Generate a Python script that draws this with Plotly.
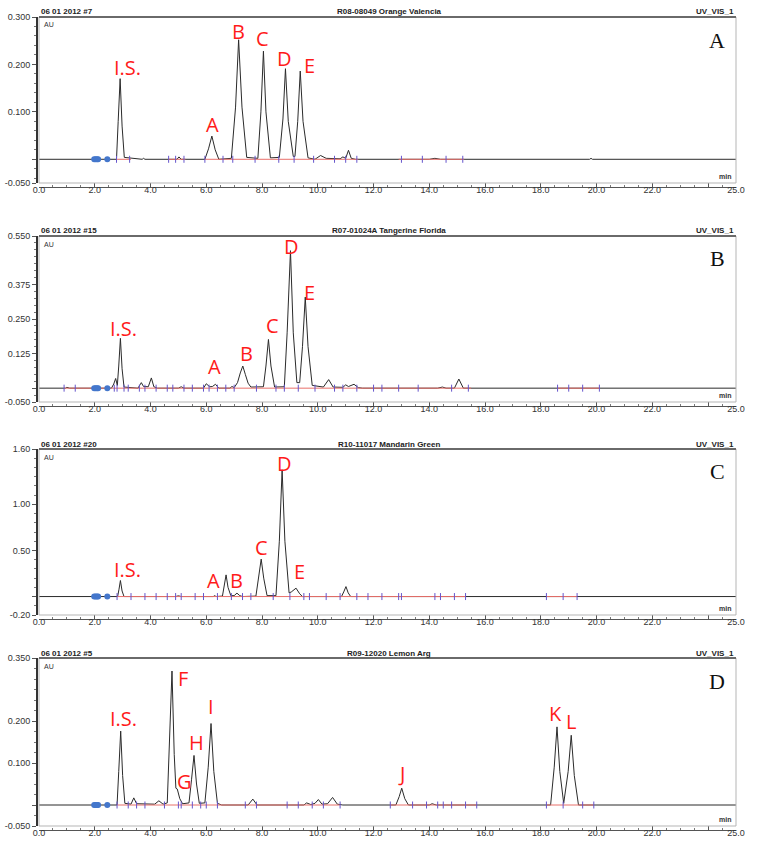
import plotly.graph_objects as go

# ---- chromatogram data (time in min, signal in AU) ----
time_a = [0, 2.78, 2.84, 2.91, 2.98, 3.06, 3.7, 3.75, 3.8, 4.95, 5.02, 5.1, 5.95, 6.08, 6.2, 6.32, 6.45,
          6.9, 7.05, 7.16, 7.28, 7.45, 7.85, 7.96, 8.05, 8.14, 8.3, 8.62, 8.75, 8.84, 8.94, 9.12, 9.18,
          9.28, 9.37, 9.47, 9.65, 9.9, 10.1, 10.3, 10.8, 10.9, 11.0, 11.1, 11.2, 11.35, 14.0, 14.2, 14.4,
          19.75, 19.8, 19.85, 25]
au_a = [0, 0, 0.08, 0.170, 0.07, 0.004, 0, 0.002, 0, 0, 0.005, 0, 0, 0.022, 0.049, 0.02, 0,
        0.002, 0.11, 0.252, 0.11, 0.004, 0.002, 0.1, 0.228, 0.1, 0.003, 0.004, 0.085, 0.191, 0.08, 0.006, 0.006,
        0.08, 0.186, 0.08, 0.003, 0, 0.008, 0.002, 0.001, 0.005, 0.002, 0.019, 0.002, 0, 0, 0.002, 0,
        0, 0.002, 0, 0]

time_b = [0, 0.95, 1.0, 1.1, 2.6, 2.68, 2.75, 2.81, 2.86, 2.92, 2.98, 3.05, 3.55, 3.62, 3.67, 3.75, 3.92,
          4.03, 4.12, 4.25, 5.0, 5.1, 5.2, 5.9, 6.0, 6.12, 6.22, 6.33, 6.45, 6.85, 6.92, 7.0, 7.12, 7.22,
          7.31, 7.4, 7.5, 7.6, 8.05, 8.14, 8.23, 8.32, 8.45, 8.8, 8.9, 9.02, 9.12, 9.25, 9.35, 9.45, 9.55,
          9.65, 9.8, 10.2, 10.39, 10.55, 10.9, 11.0, 11.1, 11.3, 11.45, 11.6, 14.3, 14.47, 14.6, 14.9,
          15.06, 15.22, 18.7, 18.8, 18.9, 25]
au_b = [0, 0, 0.003, 0, 0, 0.015, 0.035, 0.01, 0.08, 0.180, 0.07, 0.004, 0, 0.01, 0.02, 0.006, 0.005,
        0.037, 0.005, 0, 0, 0.005, 0, 0, 0.016, 0.005, 0.006, 0.014, 0, 0, 0.006, 0.002, 0.02, 0.055,
        0.08, 0.05, 0.018, 0.004, 0.005, 0.08, 0.176, 0.08, 0.004, 0.005, 0.2, 0.497, 0.2, 0.02, 0.02, 0.15, 0.329,
        0.15, 0.01, 0.004, 0.031, 0.004, 0.003, 0.012, 0.006, 0.014, 0.002, 0, 0, 0.004, 0, 0,
        0.033, 0, 0, 0.002, 0, 0]

time_c = [0, 2.82, 2.87, 2.92, 2.98, 3.05, 4.9, 5.0, 5.1, 6.25, 6.3, 6.35, 6.58, 6.64, 6.71, 6.78, 6.88,
          7.0, 7.1, 7.2, 7.3, 7.78, 7.88, 7.97, 8.06, 8.18, 8.5, 8.62, 8.72, 8.82, 8.97, 9.05, 9.22, 9.35,
          9.45, 10.85, 10.93, 11.01, 11.09, 11.18, 25]
au_c = [0, 0, 0.08, 0.174, 0.06, 0, 0, 0.008, 0, 0, 0.01, 0, 0.005, 0.12, 0.235, 0.1, 0.01,
        0.01, 0.037, 0.01, 0, 0.005, 0.2, 0.406, 0.2, 0.01, 0.01, 0.6, 1.374, 0.6, 0.04, 0.05, 0.091, 0.03,
        0, 0, 0.05, 0.108, 0.04, 0, 0]

time_d = [0, 2.8, 2.86, 2.93, 3.0, 3.08, 3.3, 3.4, 3.5, 3.6, 4.15, 4.3, 4.45, 4.6, 4.68, 4.77, 4.85,
          4.91, 4.96, 5.05, 5.15, 5.38, 5.47, 5.56, 5.65, 5.75, 5.95, 6.07, 6.17, 6.27, 6.4, 6.55, 7.5,
          7.67, 7.82, 9.5, 9.6, 9.75, 9.9, 10.02, 10.15, 10.35, 10.53, 10.7, 10.9, 12.8, 12.92, 13.01,
          13.12, 13.25, 14.0, 14.1, 14.25, 18.35, 18.48, 18.58, 18.68, 18.82, 18.98, 19.09, 19.2, 19.35, 25]
au_d = [0, 0, 0.08, 0.176, 0.07, 0.004, 0.002, 0.017, 0.003, 0.003, 0.002, 0.01, 0.002, 0.005, 0.15, 0.319, 0.12,
        0.04, 0.038, 0.015, 0.003, 0.005, 0.06, 0.118, 0.05, 0.004, 0.005, 0.09, 0.194, 0.08, 0.004, 0, 0,
        0.014, 0, 0, 0.005, 0.001, 0.004, 0.013, 0.002, 0.003, 0.018, 0.002, 0, 0, 0.02, 0.04,
        0.015, 0, 0, 0.003, 0, 0, 0.09, 0.186, 0.08, 0.004, 0.08, 0.166, 0.07, 0, 0]

# integration baselines (red) and peak delimiters (blue)
red_a = [(2.8, 3.3), (4.65, 5.25), (5.95, 11.45), (12.9, 15.25)]
red_b = [(0.9, 15.5), (18.6, 20.1)]
red_c = [(2.8, 15.3), (18.2, 19.3)]
red_d = [(2.8, 10.8), (12.6, 15.7), (18.2, 19.9)]

ticks_a = [2.78, 3.25, 4.65, 4.9, 5.2, 5.95, 6.6, 6.95, 7.75, 8.6, 9.15, 9.85, 10.6, 11.0, 11.4,
           13.0, 13.75, 14.6, 15.2]
ticks_b = [0.9, 1.3, 2.7, 2.8, 3.05, 3.2, 3.6, 3.8, 4.2, 4.6, 4.8, 5.2, 5.5, 5.9, 6.1, 6.4, 6.7, 7.0,
           7.8, 8.5, 8.8, 9.3, 9.9, 10.6, 10.9, 11.4, 12.0, 12.3, 12.9, 13.6, 14.8, 15.4, 18.6, 19.0,
           19.5, 20.1]
ticks_c = [2.8, 3.3, 3.8, 4.2, 4.6, 4.9, 5.1, 5.6, 5.9, 6.4, 6.9, 7.3, 7.6, 8.4, 9.0, 9.5, 9.7, 10.3,
           10.8, 11.4, 11.8, 12.3, 12.9, 13.0, 14.2, 14.4, 14.9, 15.3, 18.2, 18.8, 19.3]
ticks_d = [2.8, 3.2, 3.5, 3.8, 4.5, 5.0, 5.1, 5.5, 5.8, 6.0, 6.4, 7.4, 7.8, 8.9, 9.3, 9.8, 10.2, 10.8,
           12.6, 13.4, 13.9, 14.3, 14.5, 14.8, 15.3, 15.7, 18.2, 18.8, 19.5, 19.9]

inject_marks = [1.98, 2.03, 2.08, 2.12, 2.45]

# peak labels (text, time, AU)
labels_a = [("I.S.", 3.18, 0.193), ("A", 6.23, 0.074), ("B", 7.16, 0.269), ("C", 8.01, 0.255),
            ("D", 8.80, 0.212), ("E", 9.70, 0.197)]
labels_b = [("I.S.", 3.02, 0.217), ("A", 6.30, 0.077), ("B", 7.43, 0.127), ("C", 8.36, 0.225),
            ("D", 9.06, 0.512), ("E", 9.70, 0.345)]
labels_c = [("I.S.", 3.18, 0.290), ("A", 6.27, 0.174), ("B", 7.09, 0.174), ("C", 7.99, 0.536),
            ("D", 8.80, 1.447), ("E", 9.34, 0.271)]
labels_d = [("I.S.", 3.02, 0.207), ("F", 5.16, 0.302), ("G", 5.22, 0.056), ("H", 5.64, 0.150),
            ("I", 6.18, 0.234), ("J", 13.01, 0.074), ("K", 18.54, 0.218), ("L", 19.07, 0.198)]

runs = ["06 01 2012 #7", "06 01 2012 #15", "06 01 2012 #20", "06 01 2012 #5"]
samples = ["R08-08049 Orange Valencia", "R07-01024A Tangerine Florida",
           "R10-11017 Mandarin Green", "R09-12020 Lemon Arg"]
panel_names = ["A", "B", "C", "D"]

y_ranges = [(-0.05, 0.30), (-0.05, 0.55), (-0.20, 1.60), (-0.05, 0.35)]
y_tickvals = [[0.3, 0.2, 0.1, 0, -0.05], [0.55, 0.375, 0.25, 0.125, 0, -0.05],
              [1.6, 1.0, 0.5, 0, -0.2], [0.35, 0.2, 0.1, 0, -0.05]]
y_ticktext = [["0.300", "0.200", "0.100", "", "-0.050"],
              ["0.550", "0.375", "0.250", "0.125", "", "-0.050"],
              ["1.60", "1.00", "0.50", "", "-0.20"],
              ["0.350", "0.200", "0.100", "", "-0.050"]]
y_minor = [0.02, 0.025, 0.1, 0.025]

x_tickvals = [0, 2, 4, 6, 8, 10, 12, 14, 16, 18, 20, 22, 24, 25]
x_ticktext = ["0.0", "2.0", "4.0", "6.0", "8.0", "10.0", "12.0", "14.0", "16.0", "18.0",
              "20.0", "22.0", "", "25.0"]

traces = [(time_a, au_a), (time_b, au_b), (time_c, au_c), (time_d, au_d)]
reds = [red_a, red_b, red_c, red_d]
delims = [ticks_a, ticks_b, ticks_c, ticks_d]
labels = [labels_a, labels_b, labels_c, labels_d]

W, H = 757, 849
tops = [17, 236, 449, 658]
bottoms = [183, 402, 615, 826]
LEFT, RIGHT = 39, 736


def px(x):
    return x / W


def py(y):
    return 1 - y / H


fig = go.Figure()
layout = {}
shapes = []
annotations = []

for i in range(4):
    sfx = "" if i == 0 else str(i + 1)
    xa, ya = "x" + sfx, "y" + sfx
    t, b = tops[i], bottoms[i]

    xs, ys = traces[i]
    fig.add_trace(go.Scatter(x=xs, y=ys, mode="lines", xaxis=xa, yaxis=ya,
                             line=dict(color="#2b2b2b", width=1), hoverinfo="skip"))
    rx, ry = [], []
    for s, e in reds[i]:
        rx += [s, e, None]
        ry += [0, 0, None]
    fig.add_trace(go.Scatter(x=rx, y=ry, mode="lines", xaxis=xa, yaxis=ya,
                             line=dict(color="#e8706a", width=1), hoverinfo="skip"))
    fig.add_trace(go.Scatter(x=delims[i], y=[0] * len(delims[i]), mode="markers", xaxis=xa, yaxis=ya,
                             marker=dict(symbol="line-ns", size=5,
                                         line=dict(color="#6655cc", width=1)),
                             hoverinfo="skip"))
    fig.add_trace(go.Scatter(x=inject_marks, y=[0] * len(inject_marks), mode="markers",
                             xaxis=xa, yaxis=ya,
                             marker=dict(symbol="circle", size=6, color="#4477cc"),
                             hoverinfo="skip"))

    layout["xaxis" + sfx] = dict(
        domain=[px(LEFT), px(RIGHT)], range=[0, 25], anchor="free", position=py(b + 4),
        showline=True, linecolor="#555", linewidth=1, ticks="inside", ticklen=4, tickcolor="#555",
        tickvals=x_tickvals, ticktext=x_ticktext, tickfont=dict(size=9, color="#333",
                                                                family="Liberation Sans"),
        ticklabeloverflow="allow", ticklabelstandoff=-6,
        minor=dict(dtick=0.5, tick0=0, ticks="inside", ticklen=2, tickcolor="#777"),
        showgrid=False, zeroline=False, automargin=False)
    layout["yaxis" + sfx] = dict(
        domain=[py(b), py(t)], range=list(y_ranges[i]), anchor="free", position=px(37),
        showline=True, linecolor="#333", linewidth=2, ticks="outside", ticklen=4, tickcolor="#555",
        tickvals=y_tickvals[i], ticktext=y_ticktext[i], ticklabeloverflow="allow",
        tickfont=dict(size=9, color="#333", family="Liberation Sans"),
        minor=dict(dtick=y_minor[i], tick0=0, ticks="outside", ticklen=2, tickcolor="#777"),
        showgrid=False, zeroline=False, automargin=False)

    # plot frame
    shapes.append(dict(type="rect", xref="paper", yref="paper", x0=px(LEFT), x1=px(RIGHT),
                       y0=py(b), y1=py(t), line=dict(color="#b5b5b5", width=1)))
    shapes.append(dict(type="line", xref="paper", yref="paper", x0=px(LEFT), x1=px(RIGHT),
                       y0=py(t), y1=py(t), line=dict(color="#6a6a6a", width=2)))

    hdr = dict(size=8, color="#222", family="Liberation Sans")
    annotations.append(dict(text="<b>" + runs[i] + "</b>", xref="paper", yref="paper", x=px(LEFT),
                            y=py(t - 5), xanchor="left", yanchor="middle", showarrow=False, font=hdr))
    annotations.append(dict(text="<b>" + samples[i] + "</b>", xref="paper", yref="paper", x=px(389),
                            y=py(t - 5), xanchor="center", yanchor="middle", showarrow=False, font=hdr))
    annotations.append(dict(text="<b>UV_VIS_1</b>", xref="paper", yref="paper", x=px(RIGHT),
                            y=py(t - 5), xanchor="right", yanchor="middle", showarrow=False, font=hdr))
    annotations.append(dict(text="AU", xref="paper", yref="paper", x=px(LEFT + 3), y=py(t + 8),
                            xanchor="left", yanchor="middle", showarrow=False,
                            font=dict(size=7, color="#333", family="Liberation Sans")))
    annotations.append(dict(text="<b>min</b>", xref="paper", yref="paper", x=px(RIGHT - 3),
                            y=py(b - 7), xanchor="right", yanchor="middle", showarrow=False,
                            font=dict(size=7, color="#333", family="Liberation Sans")))
    annotations.append(dict(text=panel_names[i], xref="paper", yref="paper", x=px(717),
                            y=py(t + 23), xanchor="center", yanchor="middle", showarrow=False,
                            font=dict(size=22, color="#111", family="Liberation Serif")))

    for txt, lx, ly in labels[i]:
        annotations.append(dict(text=txt, xref=xa, yref=ya, x=lx, y=ly, xanchor="center",
                                yanchor="middle", showarrow=False,
                                font=dict(size=20, color="#ff1a1a", family="Open Sans")))

layout.update(width=W, height=H, margin=dict(l=0, r=0, t=0, b=0), showlegend=False,
              plot_bgcolor="white", paper_bgcolor="white", shapes=shapes, annotations=annotations)
fig.update_layout(**layout)
fig.write_html("out.html", config={"displayModeBar": False},
               post_script="document.body.style.margin = '0';")
